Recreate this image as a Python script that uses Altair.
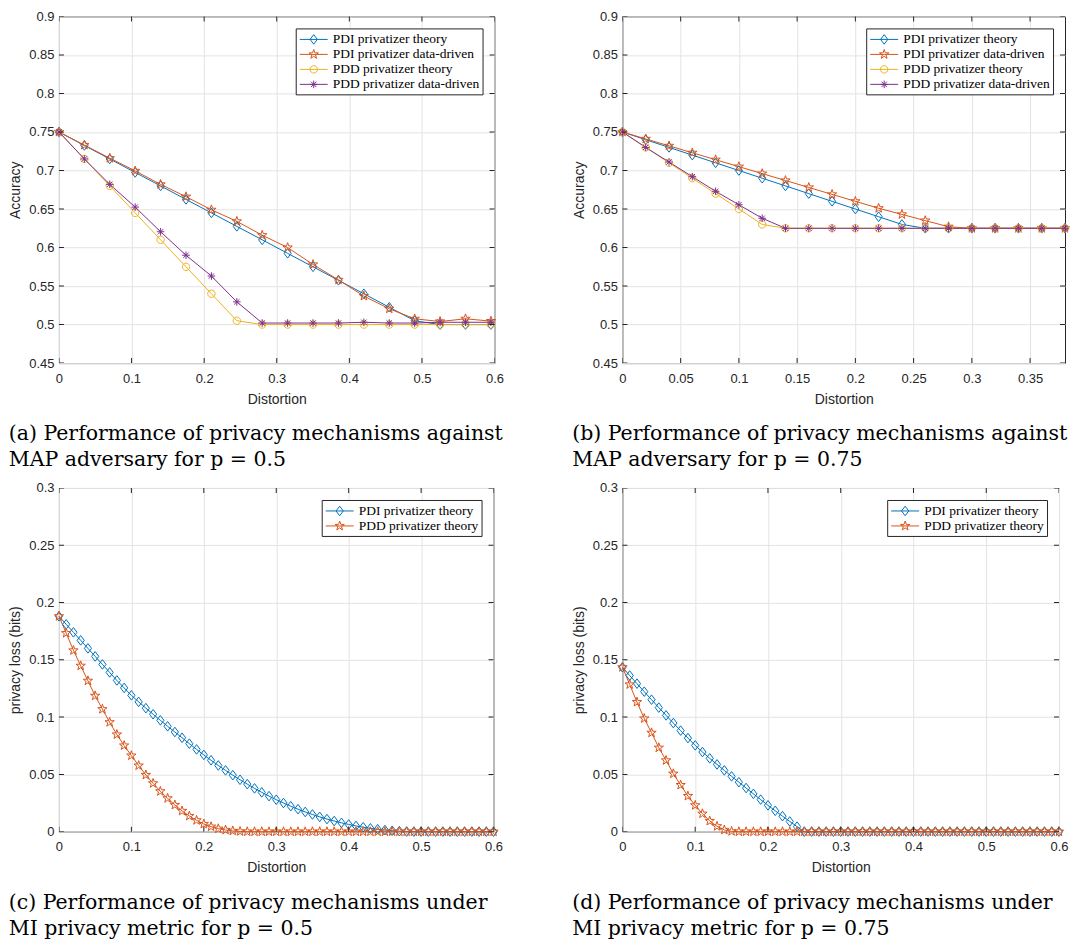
import math
import altair as alt
import pandas as pd

# ---------------- series names ----------------
NAMES_AB = ["PDI privatizer theory", "PDI privatizer data-driven",
            "PDD privatizer theory", "PDD privatizer data-driven"]
NAMES_CD = ["PDI privatizer theory", "PDD privatizer theory"]

# ---------------- panel (a): MAP adversary, p = 0.5 ----------------
XA = [0, 0.035, 0.07, 0.105, 0.14, 0.175, 0.21, 0.245, 0.28, 0.315,
      0.35, 0.385, 0.42, 0.455, 0.49, 0.525, 0.56, 0.595]
A_PDI_THEORY = [0.75, 0.7325, 0.715, 0.6975, 0.68, 0.6625, 0.645, 0.6275, 0.61, 0.5925,
                0.575, 0.5575, 0.54, 0.5225, 0.505, 0.5, 0.5, 0.5]
A_PDI_DATA = [0.75, 0.733, 0.716, 0.6995, 0.682, 0.666, 0.649, 0.634, 0.616, 0.6,
              0.578, 0.558, 0.537, 0.5205, 0.5075, 0.504, 0.5075, 0.5045]
A_PDD_THEORY = [0.75, 0.715, 0.68, 0.645, 0.61, 0.575, 0.54, 0.505, 0.5, 0.5,
                0.5, 0.5, 0.5, 0.5, 0.5, 0.5, 0.5, 0.5]
A_PDD_DATA = [0.75, 0.715, 0.682, 0.6525, 0.6205, 0.59, 0.563, 0.5295, 0.502, 0.502,
              0.502, 0.502, 0.503, 0.502, 0.502, 0.503, 0.503, 0.503]

# ---------------- panel (b): MAP adversary, p = 0.75 ----------------
XB = [0, 0.02, 0.04, 0.06, 0.08, 0.1, 0.12, 0.14, 0.16, 0.18,
      0.2, 0.22, 0.24, 0.26, 0.28, 0.3, 0.32, 0.34, 0.36, 0.38]
B_PDI_THEORY = [0.75, 0.74, 0.73, 0.72, 0.71, 0.7, 0.69, 0.68, 0.67, 0.66,
                0.65, 0.64, 0.63, 0.625, 0.625, 0.625, 0.625, 0.625, 0.625, 0.625]
B_PDI_DATA = [0.75, 0.741, 0.732, 0.723, 0.714, 0.705, 0.696, 0.687, 0.678, 0.669,
              0.66, 0.651, 0.643, 0.635, 0.627, 0.625, 0.625, 0.625, 0.625, 0.625]
B_PDD_THEORY = [0.75, 0.73, 0.71, 0.69, 0.67, 0.65, 0.63, 0.625, 0.625, 0.625,
                0.625, 0.625, 0.625, 0.625, 0.625, 0.625, 0.625, 0.625, 0.625, 0.625]
B_PDD_DATA = [0.75, 0.73, 0.711, 0.692, 0.673, 0.6555, 0.638, 0.625, 0.625, 0.625,
              0.625, 0.625, 0.625, 0.625, 0.625, 0.625, 0.625, 0.625, 0.625, 0.625]

# ---------------- panels (c), (d): MI privacy metric ----------------
XCD = [0, 0.01, 0.02, 0.03, 0.04, 0.05, 0.06, 0.07, 0.08, 0.09,
       0.1, 0.11, 0.12, 0.13, 0.14, 0.15, 0.16, 0.17, 0.18, 0.19,
       0.2, 0.21, 0.22, 0.23, 0.24, 0.25, 0.26, 0.27, 0.28, 0.29,
       0.3, 0.31, 0.32, 0.33, 0.34, 0.35, 0.36, 0.37, 0.38, 0.39,
       0.4, 0.41, 0.42, 0.43, 0.44, 0.45, 0.46, 0.47, 0.48, 0.49,
       0.5, 0.51, 0.52, 0.53, 0.54, 0.55, 0.56, 0.57, 0.58, 0.59, 0.6]
C_PDI = [0.188, 0.181, 0.174, 0.167, 0.16, 0.153, 0.146, 0.139, 0.132, 0.1255,
         0.119, 0.1133, 0.1078, 0.1025, 0.0972, 0.092, 0.087, 0.082, 0.0768, 0.0718,
         0.067, 0.0623, 0.0578, 0.0535, 0.0493, 0.0453, 0.0415, 0.0378, 0.0343, 0.031,
         0.0279, 0.025, 0.0222, 0.0196, 0.0172, 0.015, 0.0129, 0.011, 0.0093, 0.0077,
         0.0063, 0.005, 0.0039, 0.0029, 0.0021, 0.0014, 0.0008, 0.0004, 0.0001, 0,
         0, 0, 0, 0, 0, 0, 0, 0, 0, 0, 0]
C_PDD = [0.188, 0.1733, 0.1582, 0.1448, 0.1317, 0.1186, 0.1069, 0.0955, 0.0848, 0.0752,
         0.0664, 0.0577, 0.0495, 0.0422, 0.0352, 0.0291, 0.0233, 0.0181, 0.0137, 0.0099,
         0.0067, 0.0044, 0.0026, 0.0015, 0.0007, 0.0002, 0, 0, 0, 0,
         0, 0, 0, 0, 0, 0, 0, 0, 0, 0,
         0, 0, 0, 0, 0, 0, 0, 0, 0, 0,
         0, 0, 0, 0, 0, 0, 0, 0, 0, 0, 0]
D_PDI = [0.1435, 0.1363, 0.1292, 0.1222, 0.1152, 0.1083, 0.1015, 0.0948, 0.0882, 0.0817,
         0.0753, 0.0695, 0.064, 0.0587, 0.0535, 0.0483, 0.0432, 0.0381, 0.033, 0.028,
         0.023, 0.0182, 0.0135, 0.0089, 0.0044, 0, 0, 0, 0, 0,
         0, 0, 0, 0, 0, 0, 0, 0, 0, 0,
         0, 0, 0, 0, 0, 0, 0, 0, 0, 0,
         0, 0, 0, 0, 0, 0, 0, 0, 0, 0, 0]
D_PDD = [0.1435, 0.1285, 0.1131, 0.0988, 0.0863, 0.0733, 0.0622, 0.0506, 0.0407, 0.0311,
         0.023, 0.0157, 0.0093, 0.0047, 0.0015, 0.0003, 0, 0, 0, 0,
         0, 0, 0, 0, 0, 0, 0, 0, 0, 0,
         0, 0, 0, 0, 0, 0, 0, 0, 0, 0,
         0, 0, 0, 0, 0, 0, 0, 0, 0, 0,
         0, 0, 0, 0, 0, 0, 0, 0, 0, 0, 0]

# ---------------- tick labels ----------------
XTICKS_A = [0, 0.1, 0.2, 0.3, 0.4, 0.5, 0.6]
XTICKS_B = [0, 0.05, 0.1, 0.15, 0.2, 0.25, 0.3, 0.35]
XTICKS_CD = [0, 0.1, 0.2, 0.3, 0.4, 0.5, 0.6]
YTICKS_AB = [0.45, 0.5, 0.55, 0.6, 0.65, 0.7, 0.75, 0.8, 0.85, 0.9]
YTICKS_CD = [0, 0.05, 0.1, 0.15, 0.2, 0.25, 0.3]

CAPTION_A = ["(a) Performance of privacy mechanisms against", "MAP adversary for p = 0.5"]
CAPTION_B = ["(b) Performance of privacy mechanisms against", "MAP adversary for p = 0.75"]
CAPTION_C = ["(c) Performance of privacy mechanisms under", "MI privacy metric for p = 0.5"]
CAPTION_D = ["(d) Performance of privacy mechanisms under", "MI privacy metric for p = 0.75"]

COLORS_AB = ["#0072BD", "#D95319", "#EDB120", "#7E2F8E"]
COLORS_CD = ["#0072BD", "#D95319"]
KINDS_AB = ["diamond", "star", "circle", "asterisk"]
KINDS_CD = ["diamond", "star"]

AXIS_INK = "#262626"
PLOT_UNIT = 5.0      # px per path unit for size=100 markers
LEG_SIZE = 225
LEG_UNIT = math.sqrt(LEG_SIZE) / 2


def _pt(x, y, unit):
    return f"{x / unit:.3f},{y / unit:.3f}"


def marker_path(kind, unit):
    if kind == "diamond":
        pts = [(-3.6, 0), (0, -4.8), (3.6, 0), (0, 4.8)]
        return "M" + "L".join(_pt(x, y, unit) for x, y in pts) + "Z"
    if kind == "star":
        pts = []
        for i in range(10):
            r = 4.9 if i % 2 == 0 else 1.95
            a = math.radians(-90 + 36 * i)
            pts.append((r * math.cos(a), r * math.sin(a)))
        return "M" + "L".join(_pt(x, y, unit) for x, y in pts) + "Z"
    if kind == "circle":
        r = 3.7 / unit
        return (f"M{-r:.3f},0A{r:.3f},{r:.3f},0,1,0,{r:.3f},0"
                f"A{r:.3f},{r:.3f},0,1,0,{-r:.3f},0Z")
    # asterisk
    r = 3.8
    d = r * 0.7071
    segs = [((-r, 0), (r, 0)), ((0, -r), (0, r)), ((-d, -d), (d, d)), ((-d, d), (d, -d))]
    return "".join(f"M{_pt(a[0], a[1], unit)}L{_pt(b[0], b[1], unit)}" for a, b in segs)


def legend_path(kind):
    half = 14.0 / LEG_UNIT
    return f"M{-half:.3f},0L{half:.3f},0" + marker_path(kind, LEG_UNIT)


def panel(xv, series_vals, names, colors, kinds, xticks, xdom, yticks, ydom,
          ytitle, caption, w, h):
    rows = []
    for name, vals in zip(names, series_vals):
        assert len(vals) == len(xv)
        for a, b in zip(xv, vals):
            rows.append({"x": a, "y": b, "series": name})
    df = pd.DataFrame(rows)

    xenc = alt.X("x:Q", scale=alt.Scale(domain=xdom, nice=False, zero=False),
                 axis=alt.Axis(values=xticks, format="~g", title="Distortion"))
    yenc = alt.Y("y:Q", scale=alt.Scale(domain=ydom, nice=False, zero=False),
                 axis=alt.Axis(values=yticks, format="~g", title=ytitle))
    cscale = alt.Scale(domain=names, range=colors)

    lines = alt.Chart(df).mark_line(strokeWidth=1).encode(
        xenc, yenc, color=alt.Color("series:N", scale=cscale, legend=None))
    pts = alt.Chart(df).mark_point(filled=False, size=100, strokeWidth=1, opacity=1).encode(
        xenc, yenc,
        color=alt.Color("series:N", scale=cscale, legend=None),
        shape=alt.Shape("series:N",
                        scale=alt.Scale(domain=names, range=[marker_path(k, PLOT_UNIT) for k in kinds]),
                        legend=None))
    leg = alt.Legend(title=None, orient="top-right", offset=12, padding=3,
                     fillColor="white", strokeColor=AXIS_INK,
                     labelFont="Liberation Serif", labelFontSize=13.5, labelColor="black",
                     symbolSize=LEG_SIZE, symbolStrokeWidth=1, symbolOffset=7,
                     labelOffset=11, rowPadding=0, labelLimit=400)
    legend_layer = alt.Chart(df).transform_filter("datum.x < -1").mark_point(
        filled=False, size=LEG_SIZE, strokeWidth=1, opacity=1).encode(
        color=alt.Color("series:N", scale=cscale, legend=leg),
        shape=alt.Shape("series:N",
                        scale=alt.Scale(domain=names, range=[legend_path(k) for k in kinds]),
                        legend=leg))

    xt = pd.DataFrame({"x": xticks})
    yt = pd.DataFrame({"y": yticks})
    tstyle = dict(color=AXIS_INK, thickness=1, size=10, clip=True, opacity=1)
    t_bottom = alt.Chart(xt).mark_tick(orient="vertical", **tstyle).encode(xenc, y=alt.value(h))
    t_top = alt.Chart(xt).mark_tick(orient="vertical", **tstyle).encode(xenc, y=alt.value(0))
    t_left = alt.Chart(yt).mark_tick(orient="horizontal", **tstyle).encode(yenc, x=alt.value(0))
    t_right = alt.Chart(yt).mark_tick(orient="horizontal", **tstyle).encode(yenc, x=alt.value(w))

    return alt.layer(lines, pts, legend_layer, t_bottom, t_top, t_left, t_right).resolve_scale(
        color="independent", shape="independent"
    ).properties(
        width=w, height=h,
        title=alt.TitleParams(text=caption, orient="bottom", anchor="start", frame="bounds",
                              font="DejaVu Serif", fontSize=20.5, fontWeight="normal",
                              color="black", lineHeight=26, offset=18),
    )


pa = panel(XA, [A_PDI_THEORY, A_PDI_DATA, A_PDD_THEORY, A_PDD_DATA], NAMES_AB, COLORS_AB, KINDS_AB,
           XTICKS_A, [0, 0.6], YTICKS_AB, [0.45, 0.9], "Accuracy", CAPTION_A, 436, 347)
pb = panel(XB, [B_PDI_THEORY, B_PDI_DATA, B_PDD_THEORY, B_PDD_DATA], NAMES_AB, COLORS_AB, KINDS_AB,
           XTICKS_B, [0, 0.38], YTICKS_AB, [0.45, 0.9], "Accuracy", CAPTION_B, 443, 347)
pc = panel(XCD, [C_PDI, C_PDD], NAMES_CD, COLORS_CD, KINDS_CD,
           XTICKS_CD, [0, 0.6], YTICKS_CD, [0, 0.3], "privacy loss (bits)", CAPTION_C, 435, 344)
pdd = panel(XCD, [D_PDI, D_PDD], NAMES_CD, COLORS_CD, KINDS_CD,
            XTICKS_CD, [0, 0.6], YTICKS_CD, [0, 0.3], "privacy loss (bits)", CAPTION_D, 437, 344)

row1 = alt.hconcat(pa, pb, spacing=128, bounds="flush")
row2 = alt.hconcat(pc, pdd, spacing=129, bounds="flush")

chart = alt.vconcat(row1, row2, spacing=10).properties(
    padding={"left": 0, "top": 1, "right": 0, "bottom": 0},
    background="white",
).configure_axis(
    labelFont="Liberation Sans", labelFontSize=13, labelColor=AXIS_INK,
    titleFont="Liberation Sans", titleFontSize=14, titleFontWeight="normal", titleColor=AXIS_INK,
    gridColor="#e3e3e3", gridWidth=1, ticks=False, domain=False, labelFlush=False,
).configure_axisX(
    labelPadding=9, titlePadding=7,
).configure_axisY(
    labelPadding=5, titlePadding=6,
).configure_view(
    stroke=AXIS_INK, strokeWidth=1,
)

chart.save("out.html", embed_options={"renderer": "svg", "actions": False})
